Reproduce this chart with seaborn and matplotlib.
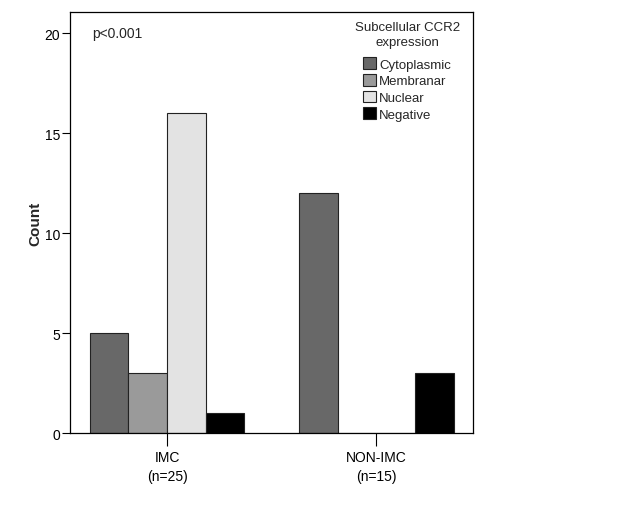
import numpy as np
import pandas as pd
import matplotlib
matplotlib.use("Agg")
import matplotlib.pyplot as plt
import seaborn as sns

groups = ["IMC\n(n=25)", "NON-IMC\n(n=15)"]
expression = ["Cytoplasmic", "Membranar", "Nuclear", "Negative"]
imc_counts = [5, 3, 16, 1]
non_imc_counts = [12, 0, 0, 3]
colors = ["#686868", "#9a9a9a", "#e3e3e3", "#000000"]

df = pd.DataFrame({
    "group": [groups[0]] * 4 + [groups[1]] * 4,
    "expression": expression * 2,
    "count": imc_counts + non_imc_counts,
})

sns.set_style("white")
plt.rcParams["font.family"] = ["Liberation Sans", "DejaVu Sans"]

fig = plt.figure(figsize=(6.31, 5.06), dpi=100)
ax = fig.add_axes([0.111, 0.142, 0.639, 0.832])

sns.barplot(data=df, x="group", y="count", hue="expression", hue_order=expression,
            palette=colors, width=0.74, edgecolor="#222222", linewidth=0.8,
            errorbar=None, ax=ax)

ax.set_xlim(-0.464, 1.464)
ax.set_ylim(0, 21.05)
ax.set_yticks([0, 5, 10, 15, 20])
ax.set_xlabel("")
ax.set_ylabel("Count", fontsize=11, fontweight="bold", labelpad=2)
ax.tick_params(axis="both", direction="out", width=0.8, colors="black",
               labelsize=10, left=True, bottom=True)
ax.tick_params(axis="y", length=6, pad=1)
ax.tick_params(axis="x", length=9, pad=3)
for lab in ax.get_xticklabels():
    lab.set_linespacing(1.45)
for s in ax.spines.values():
    s.set_color("black")
    s.set_linewidth(0.9)

ax.text(0.055, 0.95, "p<0.001", transform=ax.transAxes, fontsize=10, va="center")

ax.text(0.836, 0.947, "Subcellular CCR2\nexpression", transform=ax.transAxes,
        fontsize=9.5, ha="center", va="center", linespacing=1.3)
leg = ax.legend(loc="upper left", bbox_to_anchor=(0.727, 0.893), frameon=False,
                fontsize=9.5, handlelength=1.0, handleheight=1.0,
                handletextpad=0.2, labelspacing=0.25, borderaxespad=0.0,
                borderpad=0.0)

fig.savefig("out.png", dpi=100)
